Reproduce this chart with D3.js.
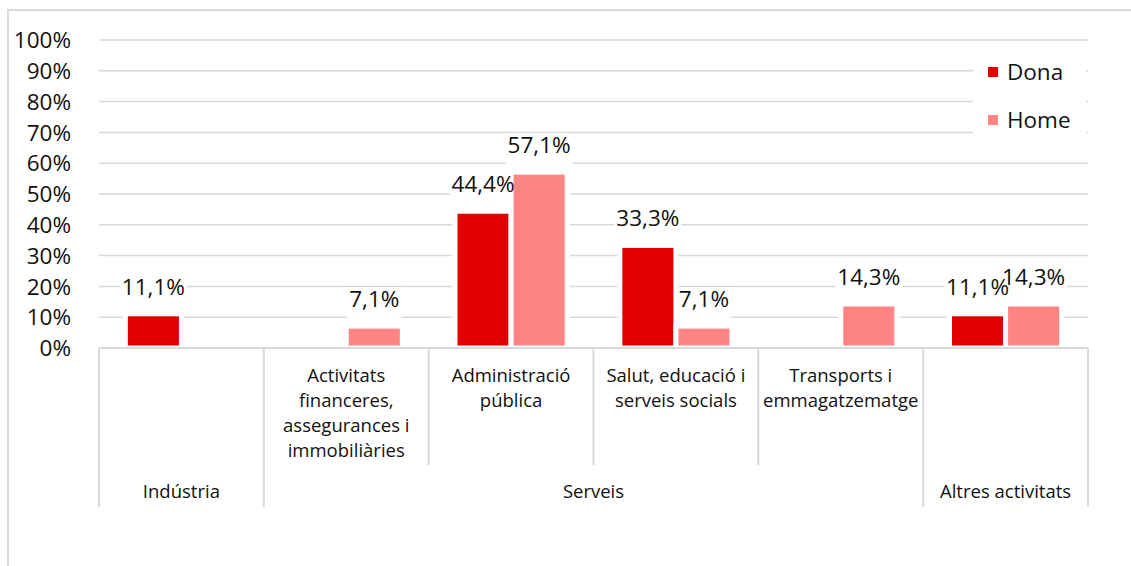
<!DOCTYPE html>
<html>
<head>
<meta charset="utf-8">
<script src="https://cdn.jsdelivr.net/npm/d3@7"></script>
<style>
  body { margin: 0; background: #fff; }
  svg { display: block; font-family: "Open Sans", sans-serif; }
</style>
</head>
<body>
<div class="main"></div>
<script>
"use strict";

// categories (one per bar group) and their wrapped axis labels
var categories = ["Indústria", "Activitats financeres, assegurances i immobiliàries",
    "Administració pública", "Salut, educació i serveis socials",
    "Transports i emmagatzematge", "Altres activitats"];
var subLabels = [
    [],
    ["Activitats", "financeres,", "assegurances i", "immobiliàries"],
    ["Administració", "pública"],
    ["Salut, educació i", "serveis socials"],
    ["Transports i", "emmagatzematge"],
    []
];
// second level of the axis
var groupNames = ["Indústria", "Serveis", "Altres activitats"];
var groupSpans = [1, 4, 1];

var series = ["Dona", "Home"];
var colors = ["#e00000", "#ff8585"];
var dona = [11.1, null, 44.4, 33.3, null, 11.1];
var home = [null, 7.1, 57.1, 7.1, 14.3, 14.3];
var yTicks = [0, 10, 20, 30, 40, 50, 60, 70, 80, 90, 100];

var W = 1131, H = 566;
var plotLeft = 99, plotRight = 1088, plotTop = 40, plotBottom = 348;
var row1 = 465, row2 = 507;

var svg = d3.select('div.main').append('svg')
    .attr('width', W).attr('height', H);

// outer chart border
svg.append('rect')
    .attr('x', 8).attr('y', 10).attr('width', W + 20).attr('height', H + 20)
    .attr('fill', 'none').attr('stroke', '#d9d9d9').attr('stroke-width', 2);

var y = d3.scaleLinear().domain([0, 100]).range([plotBottom, plotTop]);
var x0 = d3.scaleBand().domain(categories).range([plotLeft, plotRight]);
var x1 = d3.scaleBand().domain(series).range([0, x0.bandwidth()]).paddingOuter(0.47);

// gridlines
svg.append('g').selectAll('line').data(yTicks.slice(1)).join('line')
    .attr('x1', plotLeft).attr('x2', plotRight)
    .attr('y1', function (d) { return y(d); }).attr('y2', function (d) { return y(d); })
    .attr('stroke', '#d9d9d9').attr('stroke-width', 1.5);

// y tick labels
svg.append('g').selectAll('text').data(yTicks).join('text')
    .attr('x', 71).attr('y', function (d) { return y(d); })
    .attr('dy', '0.36em')
    .attr('text-anchor', 'end')
    .attr('font-size', 22.5).attr('fill', '#111')
    .text(function (d) { return d + '%'; });

// flatten values into points
var points = [];
categories.forEach(function (c, i) {
    [dona, home].forEach(function (arr, s) {
        if (arr[i] != null) points.push({ cat: c, s: s, v: arr[i] });
    });
});
function label(v) { return v.toFixed(1).replace('.', ',') + '%'; }

// white boxes behind data labels (hide gridlines like the original)
var boxes = svg.append('g');

// bars
svg.append('g').selectAll('rect').data(points).join('rect')
    .attr('x', function (d) { return x0(d.cat) + x1(series[d.s]); })
    .attr('y', function (d) { return y(d.v); })
    .attr('width', x1.bandwidth())
    .attr('height', function (d) { return y(0) - y(d.v); })
    .attr('fill', function (d) { return colors[d.s]; })
    .attr('stroke', '#fff').attr('stroke-width', 5);

// data labels
var labels = svg.append('g').selectAll('text').data(points).join('text')
    .attr('x', function (d) { return x0(d.cat) + x1(series[d.s]) + x1.bandwidth() / 2; })
    .attr('y', function (d) { return y(d.v) - 19; })
    .attr('text-anchor', 'middle')
    .attr('font-size', 22.5).attr('fill', '#111')
    .text(function (d) { return label(d.v); });

labels.each(function (d) {
    var b = this.getBBox();
    boxes.append('rect')
        .attr('x', b.x - 2).attr('y', b.y + 4)
        .attr('width', b.width + 4).attr('height', y(d.v) - b.y - 4)
        .attr('fill', '#fff');
});

// x axis line
svg.append('line')
    .attr('x1', plotLeft).attr('x2', plotRight).attr('y1', plotBottom).attr('y2', plotBottom)
    .attr('stroke', '#d9d9d9').attr('stroke-width', 2);

// dividers: long at group edges, short inside groups
var edges = [0];
groupSpans.reduce(function (acc, n) { edges.push(acc + n); return acc + n; }, 0);
var divs = d3.range(categories.length + 1).map(function (i) {
    var xp = i < categories.length ? x0(categories[i]) : plotRight;
    return { x: xp, long: edges.indexOf(i) >= 0 };
});
svg.append('g').selectAll('line').data(divs).join('line')
    .attr('x1', function (d) { return d.x; }).attr('x2', function (d) { return d.x; })
    .attr('y1', plotBottom).attr('y2', function (d) { return d.long ? row2 : row1; })
    .attr('stroke', '#d9d9d9').attr('stroke-width', 2);

// first level labels
var sub = svg.append('g').attr('font-size', 18.5).attr('fill', '#111').attr('text-anchor', 'middle');
categories.forEach(function (c, i) {
    var cx = x0(c) + x0.bandwidth() / 2;
    var t = sub.append('text').attr('x', cx).attr('y', 382);
    subLabels[i].forEach(function (line, k) {
        t.append('tspan').attr('x', cx).attr('dy', k === 0 ? 0 : 25).text(line);
    });
});

// second level labels
var start = 0;
groupNames.forEach(function (g, i) {
    var xa = x0(categories[start]);
    var xb = start + groupSpans[i] < categories.length ? x0(categories[start + groupSpans[i]]) : plotRight;
    sub.append('text').attr('x', (xa + xb) / 2).attr('y', 498).text(g);
    start += groupSpans[i];
});

// legend
var lg = svg.append('g');
lg.append('rect').attr('x', 973).attr('y', 52).attr('width', 113).attr('height', 94).attr('fill', '#fff');
series.forEach(function (s, i) {
    lg.append('rect').attr('x', 988).attr('y', 67 + i * 48).attr('width', 10).attr('height', 10)
        .attr('fill', colors[i]);
    lg.append('text').attr('x', 1007).attr('y', 72 + i * 48).attr('dy', '0.36em')
        .attr('font-size', 22.5).attr('fill', '#111').text(s);
});
</script>
</body>
</html>
